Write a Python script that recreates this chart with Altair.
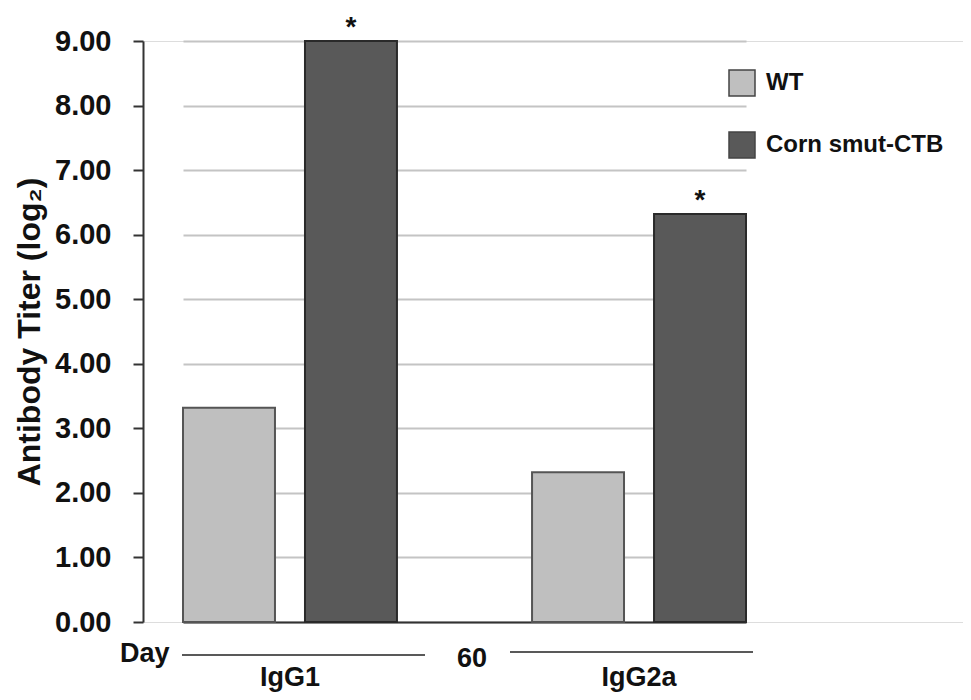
import altair as alt
import pandas as pd

groups = ["IgG1", "IgG1", "IgG2a", "IgG2a"]
series = ["WT", "Corn smut-CTB", "WT", "Corn smut-CTB"]
titers = [3.32, 9.00, 2.32, 6.32]
marks = ["", "*", "", "*"]

series_order = ["WT", "Corn smut-CTB"]
series_fill = ["#bfbfbf", "#595959"]
y_ticks = [0, 1, 2, 3, 4, 5, 6, 7, 8, 9]

df = pd.DataFrame({"group": groups, "series": series, "titer": titers, "mark": marks})

FONT = "Liberation Sans"

x_scale = alt.Scale(domain=["IgG1", "IgG2a"], range=[40, 603], paddingInner=0.387, paddingOuter=0)

x_enc = alt.X(
    "group:N",
    scale=x_scale,
    axis=alt.Axis(
        title=None, ticks=False, labelPadding=42, labelAngle=0,
        labelFontSize=27, labelFont=FONT, labelFontWeight="bold", labelColor="#111",
        domainColor="#333", domainWidth=2, grid=False,
    ),
)
xoff_enc = alt.XOffset(
    "series:N",
    scale=alt.Scale(domain=series_order, paddingInner=0.246, paddingOuter=0),
)
y_enc = alt.Y(
    "titer:Q",
    scale=alt.Scale(domain=[0, 9], nice=False),
    axis=alt.Axis(
        title="Antibody Titer (log₂)", values=y_ticks, format=".2f",
        labelFontSize=29, labelFont=FONT, labelFontWeight="bold", labelColor="#111",
        labelPadding=22, tickSize=10, tickWidth=2, tickColor="#333",
        domainColor="#333", domainWidth=2,
        gridColor="#c4c4c4", gridWidth=2,
        titleFontSize=32, titleFont=FONT, titleFontWeight="bold", titleColor="#111",
        titlePadding=8,
    ),
)

base = alt.Chart(df)

bars = base.mark_bar(strokeWidth=2).encode(
    x=x_enc,
    xOffset=xoff_enc,
    y=y_enc,
    color=alt.Color(
        "series:N",
        scale=alt.Scale(domain=series_order, range=series_fill),
        legend=alt.Legend(
            title=None, orient="none", legendX=585, legendY=28,
            symbolType="square", symbolSize=676, symbolStrokeColor="#444",
            symbolStrokeWidth=1.5, symbolOpacity=1,
            labelFontSize=24, labelFont=FONT, labelFontWeight="bold", labelColor="#111",
            labelOffset=10, labelLimit=400, rowPadding=30, padding=0,
        ),
    ),
    stroke=alt.condition(alt.datum.series == "WT", alt.value("#555555"), alt.value("#2a2a2a")),
)

stars = base.mark_text(
    dy=-13, fontSize=28, font=FONT, fontWeight="bold", color="#111", baseline="middle"
).encode(
    x=alt.X("group:N", scale=x_scale),
    xOffset=xoff_enc,
    y=alt.Y("titer:Q"),
    text="mark:N",
)

ann_text = pd.DataFrame({"label": ["Day", "60"], "px": [-23, 314], "py": [621, 626]})
ann_rule = pd.DataFrame({"x1": [39, 367], "x2": [282, 610], "yy": [614, 611]})

day_text = alt.Chart(ann_text).mark_text(
    fontSize=27, font=FONT, fontWeight="bold", color="#111", align="left", baseline="alphabetic"
).encode(
    x=alt.X("px:Q", scale=None),
    y=alt.Y("py:Q", scale=None),
    text="label:N",
)

day_rules = alt.Chart(ann_rule).mark_rule(color="#222", strokeWidth=1.5).encode(
    x=alt.X("x1:Q", scale=None),
    x2="x2:Q",
    y=alt.Y("yy:Q", scale=None),
)

chart = alt.layer(bars, stars, day_rules, day_text).properties(
    width=820,
    height=581,
    autosize=alt.AutoSizeParams(type="none"),
    padding={"left": 135, "top": 33, "right": 0, "bottom": 70},
).configure_view(stroke=None).configure(background="white")

chart.save("out.html", embed_options={"renderer": "svg", "actions": False})
